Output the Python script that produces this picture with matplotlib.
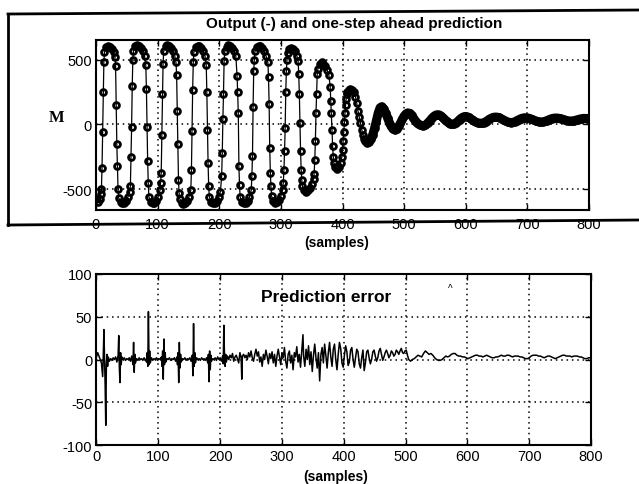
import matplotlib
matplotlib.use("Agg")
import matplotlib.pyplot as plt
from matplotlib.lines import Line2D

plt.rcParams['font.family'] = ['Liberation Sans', 'DejaVu Sans']
plt.rcParams['axes.unicode_minus'] = False

# top panel: output / one-step ahead prediction (samples)
t_top = [0, 3, 6, 8, 9, 10, 11, 12, 13, 14, 17, 20, 23, 26, 29, 31, 32, 33, 34, 35, 36,
         37, 40, 43, 46, 49, 52, 55, 56, 57, 58, 59, 60, 61, 64, 67, 70, 73, 76, 79,
         81, 82, 83, 84, 85, 86, 89, 92, 95, 98, 101, 104, 105, 106, 107, 108, 109,
         110, 113, 116, 119, 122, 125, 128, 130, 131, 132, 133, 134, 135,
         136, 139, 142, 145, 148, 151, 154, 155, 156, 157, 158,
         159, 162, 165, 168, 171, 174, 177, 179, 180, 181, 182, 183,
         184, 187, 190, 193, 196, 199, 202, 204, 205, 206, 207, 208,
         209, 212, 215, 218, 221, 224, 227, 229, 230, 231, 232, 233,
         234, 237, 240, 243, 246, 249, 252, 253, 254, 255, 256, 257,
         258, 261, 264, 267, 270, 273, 276, 279, 280, 281, 282, 283, 284,
         285, 288, 291, 294, 297, 300, 303, 304, 305, 306, 307, 308, 309, 310,
         311, 314, 317, 320, 323, 326, 328, 329, 330, 331, 332, 333, 334,
         335, 338, 341, 344, 347, 350, 353, 354, 355, 356, 357, 358, 359,
         360, 363, 366, 369, 372, 375, 378, 380, 381, 382, 383, 384, 385,
         386, 388, 391, 394, 397, 399, 400, 401, 402, 403, 404, 405, 406, 407,
         408, 410, 412, 415, 418, 421, 423, 425, 427, 429, 431, 433, 435,
         437, 440, 443, 446, 449, 452, 455, 458, 461, 464, 467, 470, 473, 476, 479,
         482, 485, 488, 491, 494, 497, 500, 503, 506, 509, 512, 515, 518, 521, 524,
         527, 530, 533, 536, 539, 542, 545, 548, 551, 554, 557, 560, 563, 566, 569,
         572, 575, 578, 581, 584, 587, 590, 593, 596, 599, 602, 605, 608, 611, 614,
         617, 620, 623, 626, 629, 632, 635, 638, 641, 644, 647, 650, 653, 656, 659,
         662, 665, 668, 671, 674, 677, 680, 683, 686, 689, 692, 695, 698, 701, 704,
         707, 710, 713, 716, 719, 722, 725, 728, 731, 734, 737, 740, 743, 746, 749,
         752, 755, 758, 761, 764, 767, 770, 773, 776, 779, 782, 785, 788, 791, 794,
         797, 800]
m_top = [-580, -600, -580, -540, -500, -340, -60, 250, 480, 560, 600, 610, 600, 585, 560, 520, 455, 150, -150, -320, -500,
         -570, -600, -610, -605, -590, -560, -520, -477, -250, -20, 300, 500, 570, 605, 615, 605, 590, 565, 530,
         460, 277, -20, -280, -455, -560, -600, -610, -605, -590, -560, -510, -450, -377, -80, 238, 470,
         565, 605, 612, 605, 590, 565, 530, 480, 380, 108, -150, -430, -530,
         -575, -605, -612, -605, -590, -560, -510, -354, -50, 270, 480,
         560, 600, 610, 605, 590, 565, 530, 460, 250, -40, -300, -480,
         -560, -600, -610, -605, -590, -565, -520, -400, -223, 40, 238, 490,
         565, 600, 612, 608, 595, 570, 530, 377, 250, 85, -323, -470,
         -560, -600, -610, -605, -590, -560, -510, -400, -246, 138, 415, 500,
         565, 600, 610, 605, 590, 565, 530, 480, 370, 160, -185, -377, -480,
         -555, -595, -605, -600, -585, -555, -505, -450, -354, -208, -31, 254, 415, 500,
         555, 585, 595, 585, 565, 530, 490, 392, 238, 8, -208, -354, -430,
         -480, -510, -520, -510, -490, -460, -420, -380, -277, -131, 85, 238, 392,
         430, 470, 480, 470, 450, 420, 380, 292, 185, 85, -46, -169, -250,
         -300, -330, -345, -330, -300, -250, -200, -130, -60, 20, 90, 150, 200, 235,
         255, 270, 275, 268, 250, 215, 170, 108, 60, 10, -40, -80, -110,
         -130, -140, -135, -115, -80, -30, 30, 90, 130, 138, 120, 88, 52, 15, -15,
         -35, -42, -35, -15, 10, 40, 65, 82, 90, 85, 70, 50, 30, 12, 0,
         -8, -10, -8, 0, 15, 30, 48, 62, 72, 76, 74, 65, 52, 38, 24,
         12, 5, 2, 4, 12, 24, 38, 50, 58, 62, 60, 54, 44, 34, 24,
         17, 12, 10, 10, 14, 20, 30, 40, 48, 54, 57, 57, 54, 48, 40,
         32, 25, 19, 16, 15, 17, 22, 30, 37, 44, 49, 52, 52, 50, 46,
         40, 34, 28, 24, 21, 20, 21, 24, 29, 35, 41, 46, 49, 50, 49,
         47, 43, 39, 34, 30, 28, 27, 28, 30, 34, 38, 42, 45, 47, 47,
         46, 45]

# bottom panel: prediction error
t_err = [0, 2, 4, 6, 8, 10, 11, 12, 13, 14, 15, 16, 17, 18, 19, 21, 23, 25, 27, 29, 31, 33, 35, 36,
         37, 38, 39, 40, 41, 43, 45, 47, 49, 51, 53, 55, 57, 59, 60, 61, 62, 63, 65, 67, 69,
         71, 73, 75, 77, 79, 81, 82, 83, 84, 85, 86, 87, 89, 91, 93, 95, 97, 99, 101, 103,
         105, 106, 107, 108, 109, 110, 111, 112, 114, 116, 118, 120, 122, 124, 126, 128,
         130, 131, 132, 133, 134, 135, 136, 137, 139, 141, 143, 145, 147, 149, 151, 153,
         155, 156, 157, 158, 159, 160, 162, 164, 166, 168, 170, 172, 174, 176, 178, 180,
         181, 182, 183, 184, 185, 186, 188, 190, 192, 194, 196, 198, 200, 202, 204, 205,
         206, 207, 208, 209, 210, 212, 214, 216, 218, 220, 222, 224, 226, 228, 230, 232,
         234, 235, 236, 238, 240, 242, 244, 246, 248, 250, 252, 254, 256, 258, 260, 262,
         264, 266, 268, 270, 272, 274, 276, 278, 280, 282, 284, 286, 288, 290, 292, 294,
         296, 298, 300, 302, 304, 306, 308, 310, 312, 314, 316, 318, 320, 322, 324, 326,
         328, 330, 332, 334, 335, 337, 339, 341, 343, 345, 347, 349, 351, 353, 355, 357,
         359, 361, 363, 365, 367, 369, 371, 373, 375, 377, 379, 381, 383, 385, 387, 389,
         391, 393, 395, 397, 399, 401, 403, 405, 407, 409, 411, 413, 415, 417, 419, 421,
         423, 425, 427, 429, 431, 433, 435, 437, 439, 441, 443, 445, 447, 449, 451, 453,
         455, 457, 459, 461, 463, 465, 467, 469, 471, 473, 475, 477, 479, 481, 483, 485,
         487, 489, 491, 493, 495, 497, 499, 501, 503, 505, 508, 511, 514, 517, 520, 523,
         526, 529, 532, 535, 538, 541, 544, 547, 550, 553, 556, 559, 562, 565, 568, 571,
         574, 577, 580, 583, 586, 589, 592, 595, 598, 601, 604, 607, 610, 613, 616, 619,
         622, 625, 628, 631, 634, 637, 640, 643, 646, 649, 652, 655, 658, 661, 664, 667,
         670, 673, 676, 679, 682, 685, 688, 691, 694, 697, 700, 703, 706, 709, 712, 715,
         718, 721, 724, 727, 730, 733, 736, 739, 742, 745, 748, 751, 754, 757, 760, 763,
         766, 769, 772, 775, 778, 781, 784, 787, 790, 793, 796, 799, 800]
e_val = [3, 8, 4, 0, -4, -20, 5, 35, 0, -30, -77, -5, 6, -8, 3, -2, 1, -1, 2, 0, 3, -3, 5, 28,
         -10, -27, 8, -6, 3, 0, 2, -1, 1, 0, 2, -2, 4, -6, 20, -15, 6, -4, 1, -1, 2,
         0, 1, -1, 2, 0, -3, 8, -8, 56, -6, 10, -4, 2, -1, 1, 0, 2, -1, 1, 0,
         3, -8, 10, -23, 24, -6, 8, -3, 1, 0, 2, -1, 1, 0, 2, -2,
         3, -6, 8, -27, 20, -10, 6, -3, 1, 0, 2, -1, 1, 0, 2, -2,
         5, -19, 42, -8, 8, -4, 2, 0, 1, -1, 2, 0, 1, -1, 2, -4,
         6, -26, 10, -12, 5, -2, 1, 0, 2, -1, 3, 0, 2, -2, 4, -5,
         40, 5, -8, 6, -3, 4, 0, 5, 2, 7, -2, 3, 5, 1, -4, 8,
         2, -23, 4, 6, 2, 5, 0, 8, 3, 10, 2, -2, 6, 12, 4, 9,
         -3, 3, -8, 6, 0, 11, 4, -5, 7, 1, 9, -4, 6, -8, 4, 12,
         3, -6, 8, 2, 14, -2, -10, 6, 10, -4, 5, -12, 8, 3, 15, -3,
         6, -9, 10, 29, 4, -8, 12, 0, 16, -6, 9, -14, 5, 18, 2, -10,
         8, -25, 6, 14, -4, 18, 5, -10, 8, 20, 3, -8, 12, 18, 0, -12,
         6, 20, 13, -4, -9, 5, 16, 9, -7, -3, 11, 14, 0, -9, 2, 12,
         9, -5, -10, 2, 11, -13, -4, 9, 11, 2, -5, 0, 9, 11, 4, -2,
         2, 10, 13, 6, -1, 3, 8, 11, 7, 2, 5, 10, 8, 4, 6, 11,
         9, 6, 10, 13, 8, 7, 10, 11, 5, 0, -2, 0, 1, 3, 5, 4,
         3, 7, 10, 8, 6, 7, 5, 2, 0, -1, -1, 0, 2, 4, 3, 4,
         6, 7, 7, 5, 4, 4, 3, 3, 2, 1, 2, 3, 4, 5, 5, 4,
         4, 3, 4, 5, 4, 3, 2, 2, 3, 3, 4, 5, 4, 4, 5, 5,
         4, 3, 4, 4, 4, 3, 3, 2, 1, 1, 2, 4, 5, 5, 5, 4,
         4, 3, 2, 3, 4, 4, 3, 2, 1, 2, 3, 4, 5, 5, 4, 4,
         4, 3, 4, 4, 4, 3, 3, 2, 1, 1, 2, 2, 3]

x_ticks = [0, 100, 200, 300, 400, 500, 600, 700, 800]

fig = plt.figure(figsize=(6.39, 4.85), dpi=100)
grid_ls = (0, (1, 2.5))

ax1 = fig.add_axes([0.150, 0.565, 0.772, 0.3505])
ax1.plot(t_top, m_top, '-o', color='k', lw=0.9, ms=4.2, mfc='none', mew=2.0)
# after ~440 samples the overlapping circles merge into one thick band
i_band = t_top.index(440)
ax1.plot(t_top[i_band:], m_top[i_band:], color='k', lw=6.5,
         solid_capstyle='round', solid_joinstyle='round')
ax1.set_xlim(0, 800)
ax1.set_ylim(-662, 654)
ax1.set_xticks(x_ticks)
ax1.set_yticks([-500, 0, 500])
ax1.grid(True, color='k', linestyle=grid_ls, lw=1.1)
ax1.tick_params(direction='in', length=4, width=1, top=True, right=True,
                labelsize=10.5, pad=3)
ax1.tick_params(axis='x', pad=5)

ax2 = fig.add_axes([0.151, 0.0804, 0.774, 0.3526])
ax2.plot(t_err, e_val, color='k', lw=1.1)
ax2.set_xlim(0, 800)
ax2.set_ylim(-100, 100)
ax2.set_xticks(x_ticks)
ax2.set_yticks([-100, -50, 0, 50, 100])
ax2.grid(True, color='k', linestyle=grid_ls, lw=1.1)
ax2.tick_params(direction='in', length=4, width=1, top=True, right=True,
                labelsize=10.5, pad=3)
ax2.text(372, 74, 'Prediction error', ha='center', va='center',
         fontsize=12.5, fontweight='bold')
ax2.text(572, 84, '^', ha='center', va='center', fontsize=7)

for ax in (ax1, ax2):
    for s in ax.spines.values():
        s.set_linewidth(1.5)

# titles and labels
fig.text(354 / 639, 1 - 24 / 485, 'Output (-) and one-step ahead prediction',
         ha='center', va='center', fontsize=11, fontweight='bold')
fig.text(57 / 639, 1 - 118 / 485, 'M', ha='center', va='center', fontsize=12,
         fontweight='bold', family='Liberation Serif')
fig.text(337 / 639, 1 - 243 / 485, '(samples)', ha='center', va='center',
         fontsize=10, fontweight='bold')
fig.text(336 / 639, 1 - 477 / 485, '(samples)', ha='center', va='center',
         fontsize=10, fontweight='bold')

# the box drawn round the upper plot
W, H = 639.0, 485.0
for (x0, y0), (x1, y1) in [((8, 15), (639, 11)), ((8, 15), (8, 226)),
                           ((8, 226), (639, 221))]:
    fig.add_artist(Line2D([x0 / W, x1 / W], [1 - y0 / H, 1 - y1 / H],
                          transform=fig.transFigure, color='k', lw=2))

fig.savefig('out.png', dpi=100)
